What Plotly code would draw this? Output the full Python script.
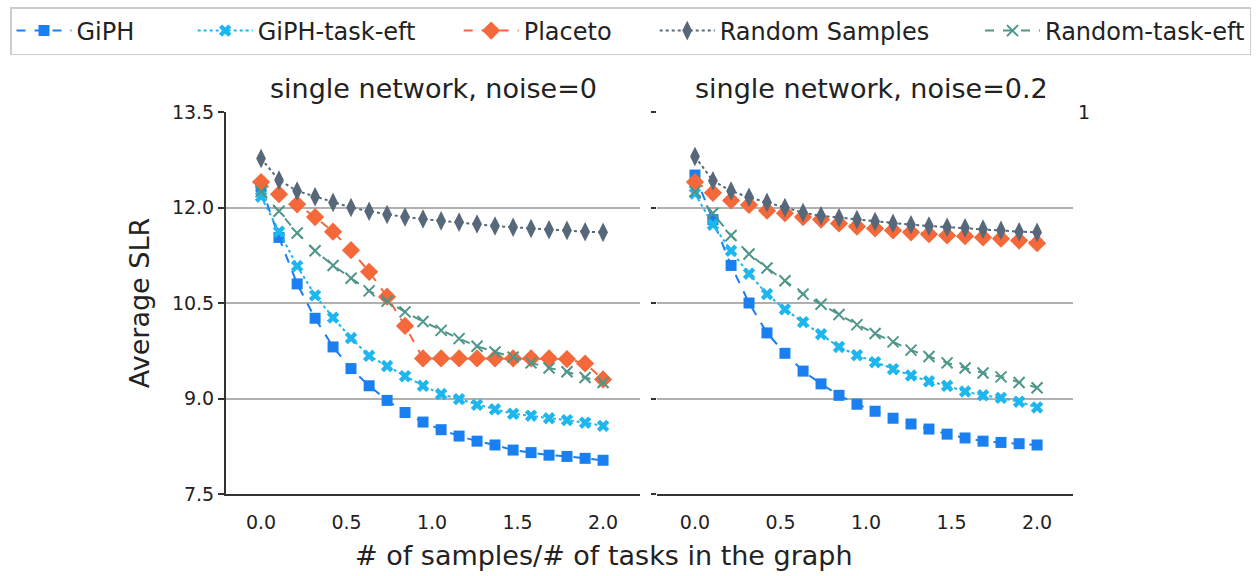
import plotly.graph_objects as go

W, H = 1257, 576

x_vals = [0.0, 0.105, 0.211, 0.316, 0.421, 0.526, 0.632, 0.737, 0.842, 0.947,
          1.053, 1.158, 1.263, 1.368, 1.474, 1.579, 1.684, 1.789, 1.895, 2.0]

series_names = ["GiPH", "GiPH-task-eft", "Placeto", "Random Samples", "Random-task-eft"]

# left panel: single network, noise=0
giph_n0 = [12.33, 11.53, 10.80, 10.26, 9.81, 9.47, 9.20, 8.97, 8.78, 8.63,
           8.51, 8.41, 8.33, 8.27, 8.19, 8.15, 8.11, 8.09, 8.06, 8.03]
giph_eft_n0 = [12.17, 11.62, 11.08, 10.62, 10.27, 9.95, 9.67, 9.51, 9.35, 9.20,
               9.07, 8.99, 8.90, 8.83, 8.76, 8.73, 8.69, 8.66, 8.62, 8.57]
placeto_n0 = [12.40, 12.21, 12.05, 11.85, 11.62, 11.33, 10.99, 10.60, 10.14, 9.63,
              9.63, 9.63, 9.63, 9.63, 9.63, 9.63, 9.63, 9.62, 9.55, 9.30]
random_n0 = [12.77, 12.43, 12.26, 12.17, 12.08, 12.00, 11.94, 11.89, 11.85, 11.82,
             11.79, 11.77, 11.74, 11.71, 11.69, 11.67, 11.65, 11.64, 11.62, 11.61]
random_eft_n0 = [12.25, 11.94, 11.60, 11.32, 11.09, 10.89, 10.69, 10.53, 10.36, 10.21,
                 10.07, 9.94, 9.82, 9.73, 9.65, 9.56, 9.48, 9.42, 9.33, 9.25]

# right panel: single network, noise=0.2
giph_n2 = [12.51, 11.81, 11.09, 10.50, 10.03, 9.71, 9.43, 9.23, 9.05, 8.91,
           8.80, 8.69, 8.60, 8.52, 8.44, 8.38, 8.33, 8.31, 8.29, 8.27]
giph_eft_n2 = [12.22, 11.73, 11.32, 10.96, 10.64, 10.40, 10.20, 10.01, 9.81, 9.68,
               9.57, 9.46, 9.36, 9.27, 9.20, 9.11, 9.05, 9.01, 8.95, 8.86]
placeto_n2 = [12.40, 12.23, 12.11, 12.04, 11.95, 11.91, 11.85, 11.81, 11.75, 11.70,
              11.67, 11.64, 11.61, 11.58, 11.56, 11.55, 11.53, 11.51, 11.48, 11.44]
random_n2 = [12.80, 12.42, 12.26, 12.16, 12.08, 12.00, 11.92, 11.87, 11.84, 11.81,
             11.78, 11.75, 11.73, 11.71, 11.69, 11.68, 11.66, 11.64, 11.62, 11.61]
random_eft_n2 = [12.25, 11.91, 11.56, 11.27, 11.05, 10.85, 10.64, 10.48, 10.32, 10.16,
                 10.02, 9.89, 9.76, 9.66, 9.56, 9.48, 9.40, 9.34, 9.25, 9.17]

panel_titles = ["single network, noise=0", "single network, noise=0.2"]
y_ticks = [7.5, 9.0, 10.5, 12.0, 13.5]
x_ticks = [0.0, 0.5, 1.0, 1.5, 2.0]

colors = ["#1a7ff0", "#1db6ef", "#f4683a", "#56687a", "#4e9689"]
dashes = ["dash", "dot", "dash", "dot", "dash"]
symbols = ["square", "x", "diamond", "diamond-tall", "x-thin"]
msizes = [11, 11, 14, 14, 11]
legend_pad = [7, 5, 5, 6, 0]  # trailing non-breaking spaces for legend spacing

FONT = "DejaVu Sans"
NBSP = "\u00a0"

fig = go.Figure()

panels = [
    [giph_n0, giph_eft_n0, placeto_n0, random_n0, random_eft_n0],
    [giph_n2, giph_eft_n2, placeto_n2, random_n2, random_eft_n2],
]

for p, data in enumerate(panels):
    xa = "x" if p == 0 else "x2"
    ya = "y" if p == 0 else "y2"
    for i, ys in enumerate(data):
        marker = dict(symbol=symbols[i], size=msizes[i], color=colors[i])
        if symbols[i] == "x-thin":
            marker["line"] = dict(color=colors[i], width=2)
        else:
            marker["line"] = dict(width=0)
        label = series_names[i] + NBSP * legend_pad[i]
        fig.add_trace(go.Scatter(
            x=x_vals, y=ys, mode="lines+markers", name=label,
            line=dict(color=colors[i], width=2, dash=dashes[i]),
            marker=marker, xaxis=xa, yaxis=ya, showlegend=(p == 0),
        ))

def px_x(v):
    return v / W

def px_y(v):
    return 1 - v / H

tickfont = dict(family=FONT, size=19, color="#222222")

fig.update_layout(
    width=W, height=H,
    margin=dict(l=0, r=0, t=0, b=0, autoexpand=False),
    paper_bgcolor="white", plot_bgcolor="white",
    font=dict(family=FONT, color="#222222"),
    xaxis=dict(domain=[px_x(226), px_x(640)], range=[-0.205, 2.216],
               tickvals=x_ticks, ticktext=["%.1f" % t for t in x_ticks],
               showgrid=False, zeroline=False, showline=True, linecolor="#333333",
               linewidth=2, ticks="", ticklabelstandoff=10, tickfont=tickfont, anchor="y"),
    yaxis=dict(domain=[px_y(494), px_y(112)], range=[7.5, 13.5],
               tickvals=y_ticks, ticktext=["%.1f" % t for t in y_ticks],
               showgrid=True, gridcolor="#b0b0b0", gridwidth=1.5, zeroline=False,
               showline=True, linecolor="#333333", linewidth=2,
               ticks="outside", ticklen=6, tickwidth=1.5, tickcolor="#333333",
               tickfont=tickfont, anchor="x",
               title=dict(text="Average SLR", font=dict(family=FONT, size=27), standoff=14)),
    xaxis2=dict(domain=[px_x(657), px_x(1073)], range=[-0.222, 2.21],
                tickvals=x_ticks, ticktext=["%.1f" % t for t in x_ticks],
                showgrid=False, zeroline=False, showline=True, linecolor="#333333",
                linewidth=2, ticks="", ticklabelstandoff=10, tickfont=tickfont, anchor="y2"),
    yaxis2=dict(domain=[px_y(494), px_y(112)], range=[7.5, 13.5],
                tickvals=y_ticks, showticklabels=False,
                showgrid=True, gridcolor="#b0b0b0", gridwidth=1.5, zeroline=False,
                showline=False, ticks="outside", ticklen=5, tickwidth=1.5,
                tickcolor="#333333", anchor="x2"),
    legend=dict(orientation="h", xref="container", yref="container",
                x=px_x(10), xanchor="left", y=px_y(7), yanchor="top",
                font=dict(family=FONT, size=24, color="#222222"),
                bordercolor="#cccccc", borderwidth=1.5, bgcolor="white",
                itemwidth=55, tracegroupgap=0),
)

ann_font = dict(family=FONT, size=27, color="#222222")
fig.add_annotation(text=panel_titles[0], x=(px_x(226) + px_x(640)) / 2, y=px_y(88),
                   xref="paper", yref="paper", xanchor="center", yanchor="middle",
                   showarrow=False, font=ann_font)
fig.add_annotation(text=panel_titles[1], x=(px_x(657) + px_x(1073)) / 2 + 0.005, y=px_y(88),
                   xref="paper", yref="paper", xanchor="center", yanchor="middle",
                   showarrow=False, font=ann_font)
fig.add_annotation(text="# of samples/# of tasks in the graph", x=px_x(604), y=px_y(555),
                   xref="paper", yref="paper", xanchor="center", yanchor="middle",
                   showarrow=False, font=ann_font)
fig.add_annotation(text="1", x=px_x(1076), y=px_y(112), xref="paper", yref="paper",
                   xanchor="left", yanchor="middle", showarrow=False,
                   font=dict(family=FONT, size=19, color="#222222"))

fig.write_html("out.html")
